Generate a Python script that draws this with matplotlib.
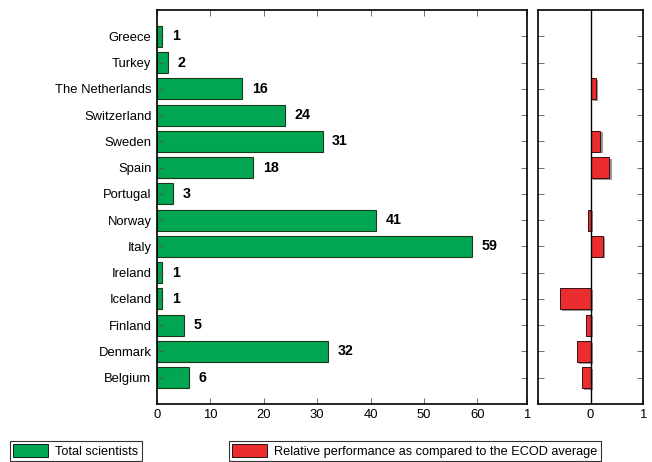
import matplotlib.pyplot as plt
from matplotlib.patches import Patch

countries = ['Belgium', 'Denmark', 'Finland', 'Iceland', 'Ireland', 'Italy', 'Norway',
             'Portugal', 'Spain', 'Sweden', 'Switzerland', 'The Netherlands', 'Turkey', 'Greece']
scientists = [6, 32, 5, 1, 1, 59, 41, 3, 18, 31, 24, 16, 2, 1]
relative = [-0.17, -0.26, -0.08, -0.58, 0, 0.23, -0.05, 0, 0.36, 0.19, 0, 0.11, 0, 0]

green = '#00a651'
red = '#ec2d2f'

plt.rcParams['font.family'] = ['Liberation Sans', 'DejaVu Sans']
plt.rcParams['font.size'] = 9.4

fig = plt.figure(figsize=(6.52, 4.62), dpi=100)
ax = fig.add_axes([0.2408, 0.1255, 0.5675, 0.8529])
ax2 = fig.add_axes([0.8252, 0.1255, 0.1610, 0.8529])

y = range(len(countries))

# total scientists per country
ax.barh(y, scientists, height=0.8, color=green, edgecolor='#1a3a1a', linewidth=0.8)
for i, v in enumerate(scientists):
    ax.text(v + 1.8, i, str(v), va='center', ha='left', fontweight='bold', fontsize=10.3)
ax.set_xlim(0, 69.3)
ax.set_ylim(-1, 14)
ax.set_xticks([0, 10, 20, 30, 40, 50, 60, 69.3])
ax.set_xticklabels(['0', '10', '20', '30', '40', '50', '60', '1'])
ax.set_yticks(list(y))
ax.set_yticklabels(countries, fontsize=9.4)
ax.tick_params(direction='in', top=True, right=True, length=4, width=0.6, color='#555555')
ax.tick_params(axis='y', pad=4)

# relative performance, with a light drop shadow under each bar
ax2.barh([i - 0.06 for i in y], relative, left=0.04, height=0.8, color='#999999', linewidth=0)
ax2.barh(y, relative, height=0.8, color=red, edgecolor='#3a1010', linewidth=0.7)
ax2.axvline(0, color='black', linewidth=1)
ax2.set_xlim(-1, 1)
ax2.set_ylim(-1, 14)
ax2.set_xticks([-1, 0, 1])
ax2.set_xticklabels(['', '0', '1'])
ax2.set_yticks(list(y))
ax2.set_yticklabels([])
ax2.tick_params(direction='in', top=False, right=True, length=4, width=0.6, color='#555555')

for a in (ax, ax2):
    for s in a.spines.values():
        s.set_linewidth(1.2)

leg_kw = dict(frameon=True, fancybox=False, edgecolor='black', fontsize=9.2,
              handlelength=2.7, handleheight=1.1, borderpad=0.25, borderaxespad=0,
              handletextpad=0.6)
l1 = fig.legend(handles=[Patch(facecolor=green, edgecolor='black', linewidth=0.6)],
                labels=['Total scientists'], loc='lower left',
                bbox_to_anchor=(0.0153, 0.002), **leg_kw)
l1.get_frame().set_linewidth(0.8)
l2 = fig.legend(handles=[Patch(facecolor=red, edgecolor='black', linewidth=0.6)],
                labels=['Relative performance as compared to the ECOD average'],
                loc='lower left', bbox_to_anchor=(0.351, 0.002), **leg_kw)
l2.get_frame().set_linewidth(0.8)

plt.savefig('out.png', dpi=100)
